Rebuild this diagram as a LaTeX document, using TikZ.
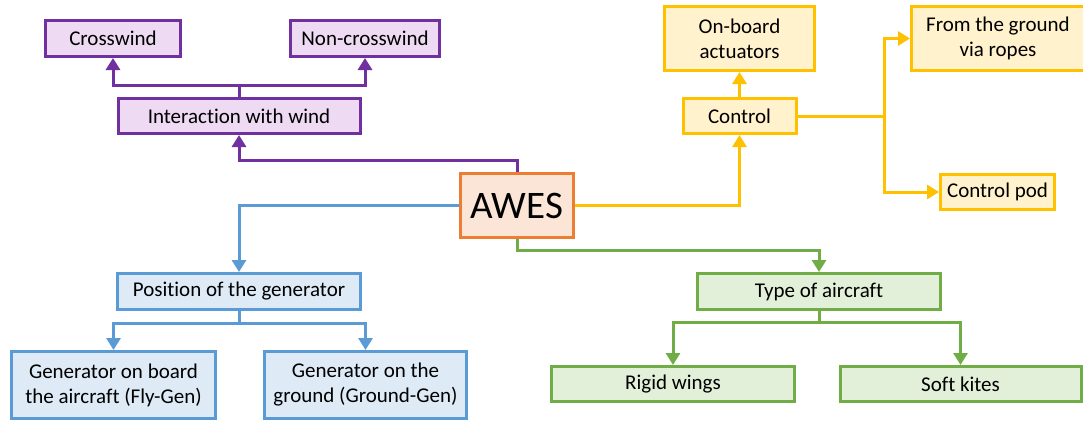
\documentclass[tikz,border=0pt]{standalone}
\usepackage{fontspec}
\setmainfont{Carlito}[Ligatures=NoCommon]
\usetikzlibrary{arrows.meta}
\definecolor{windline}{HTML}{7030A0}
\definecolor{windfill}{HTML}{EEDAF2}
\definecolor{awesline}{HTML}{ED7D31}
\definecolor{awesfill}{HTML}{FBE5D6}
\definecolor{ctrlline}{HTML}{FFC000}
\definecolor{ctrlfill}{HTML}{FFF2CC}
\definecolor{genline}{HTML}{5B9BD5}
\definecolor{genfill}{HTML}{DEEBF7}
\definecolor{typeline}{HTML}{70AD47}
\definecolor{typefill}{HTML}{E2F0D9}
\tikzset{
  box/.style={draw, line width=3pt, inner sep=2pt, align=center, font=\fontsize{21}{25}\selectfont},
  windbox/.style={box, draw=windline, fill=windfill},
  ctrlbox/.style={box, draw=ctrlline, fill=ctrlfill},
  genbox/.style={box, draw=genline, fill=genfill},
  typebox/.style={box, draw=typeline, fill=typefill},
  link/.style={line width=3pt, -{Triangle[width=14pt,length=12pt]}},
}
\begin{document}
\begin{tikzpicture}[x=1pt,y=-1pt]
\useasboundingbox (0,0) rectangle (1083,423);
\node[box, draw=awesline, fill=awesfill, minimum width=113pt, minimum height=64pt, font=\fontsize{39}{42}\selectfont] (awes) at (517,205.5) {AWES};

% interaction with wind
\node[windbox, minimum width=135pt, minimum height=36pt] (cross) at (113,38.5) {Crosswind};
\node[windbox, minimum width=149pt, minimum height=36pt] (noncross) at (365,38.5) {Non-crosswind};
\node[windbox, minimum width=242pt, minimum height=35pt] (wind) at (239,116) {Interaction with wind};
\draw[link, windline] (awes.north) -- (awes.north |- 0,160) -| (wind.south);
\draw[link, windline] (wind.north) -- ++(0,-12) -| (cross.south);
\draw[link, windline] (wind.north) -- ++(0,-12) -| (noncross.south);

% control
\node[ctrlbox, minimum width=150pt, minimum height=64pt] (onboard) at (739.5,38.5) {On-board\\actuators};
\node[ctrlbox, minimum width=173pt, minimum height=64pt] (ground) at (998,38.5) {From the ground\\via ropes};
\node[ctrlbox, minimum width=113pt, minimum height=35pt] (ctrl) at (739.5,116) {Control};
\node[ctrlbox, minimum width=114pt, minimum height=35pt] (pod) at (997.5,192) {Control pod};
\coordinate (split) at (884,116);
\draw[link, ctrlline] (awes.east) -| (ctrl.south);
\draw[link, ctrlline] (ctrl.north) -- (onboard.south);
\draw[link, ctrlline] (ctrl.east) -- (split) |- (ground.west);
\draw[link, ctrlline] (split) |- (pod.west);

% position of the generator
\node[genbox, minimum width=243pt, minimum height=36pt] (pos) at (239,291.5) {Position of the generator};
\node[genbox, minimum width=204pt, minimum height=67pt] (flygen) at (113.5,385) {Generator on board\\the aircraft (Fly-Gen)};
\node[genbox, minimum width=202pt, minimum height=67pt] (groundgen) at (365.5,385) {Generator on the\\ground (Ground-Gen)};
\draw[link, genline] (awes.west) -| (pos.north);
\draw[link, genline] (pos.south) -- ++(0,12) -| (flygen.north);
\draw[link, genline] (pos.south) -- ++(0,12) -| (groundgen.north);

% type of aircraft
\node[typebox, minimum width=243pt, minimum height=36pt] (type) at (819,291.5) {Type of aircraft};
\node[typebox, minimum width=243pt, minimum height=35pt] (rigid) at (673,384) {Rigid wings};
\node[typebox, minimum width=241pt, minimum height=35pt] (soft) at (960.5,384) {Soft kites};
\draw[link, typeline] (awes.south) -- ++(0,11) -| (type.north);
\draw[link, typeline] (type.south) -- ++(0,11) -| (rigid.north);
\draw[link, typeline] (type.south) -- ++(0,11) -| (soft.north);
\end{tikzpicture}
\end{document}
